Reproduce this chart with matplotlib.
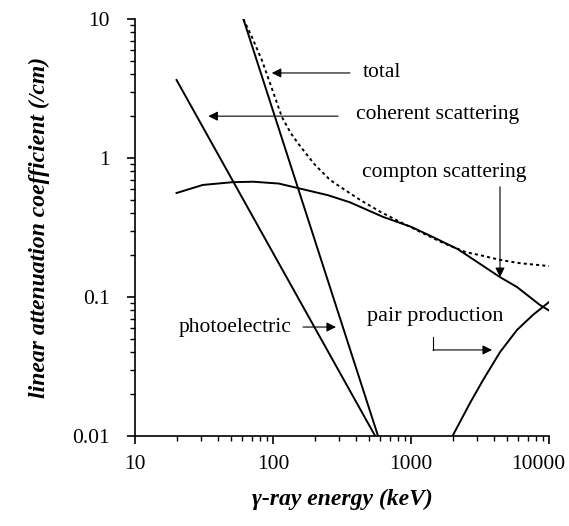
import matplotlib
matplotlib.use('Agg')
import matplotlib.pyplot as plt
import matplotlib.transforms as mtransforms

plt.rcParams['font.family'] = ['Liberation Serif', 'DejaVu Serif']

# values (energy in keV, coefficient in /cm)
coherent_E = [20, 550]
coherent_mu = [3.64, 0.01]

photo_E = [61, 577]
photo_mu = [10, 0.01]

compton_E = [20, 31, 51, 72, 110, 149, 250, 361, 627, 1000, 1443, 2200,
             3006, 4415, 5860, 8610, 10000]
compton_mu = [0.56, 0.64, 0.67, 0.675, 0.655, 0.61, 0.54, 0.48, 0.377,
              0.32, 0.27, 0.22, 0.179, 0.139, 0.118, 0.0875, 0.08]

pair_E = [2000, 2680, 3330, 4420, 5870, 7650, 10000]
pair_mu = [0.01, 0.0173, 0.0253, 0.0402, 0.058, 0.0743, 0.092]

total_E = [61, 70, 83, 100, 116, 135, 157, 200, 259, 340, 427, 600, 832,
           1200, 1707, 2500, 3162, 4415, 6170, 10000]
total_mu = [10, 7.5, 5.07, 3.0, 1.97, 1.5, 1.22, 0.90, 0.695, 0.58, 0.50,
            0.41, 0.347, 0.29, 0.245, 0.21, 0.20, 0.185, 0.175, 0.167]

xticks = [10, 100, 1000, 10000]
xtick_labels = ['10', '100', '1000', '10000']
yticks = [0.01, 0.1, 1, 10]
ytick_labels = ['0.01', '0.1', '1', '10']

fig = plt.figure(figsize=(5.69, 5.26), dpi=100)
ax = fig.add_axes([135 / 569, 1 - 436 / 526, 414 / 569, 417 / 526])

lw = 1.4
ax.plot(coherent_E, coherent_mu, color='black', lw=lw)
ax.plot(photo_E, photo_mu, color='black', lw=lw)
ax.plot(compton_E, compton_mu, color='black', lw=lw)
ax.plot(pair_E, pair_mu, color='black', lw=lw)
ax.plot(total_E, total_mu, color='black', lw=1.4, linestyle=(0, (1.6, 1.6)))

ax.set_xscale('log')
ax.set_yscale('log')
ax.set_xlim(10, 10000)
ax.set_ylim(0.01, 10)
ax.set_xticks(xticks, xtick_labels)
ax.set_yticks(yticks, ytick_labels)

for s in ['top', 'right']:
    ax.spines[s].set_visible(False)
for s in ['left', 'bottom']:
    ax.spines[s].set_linewidth(1.2)
ax.tick_params(which='major', direction='out', length=6, width=1.2,
               labelsize=15.5, pad=8)
ax.tick_params(which='minor', direction='out', length=3.5, width=1.0)
ax.tick_params(axis='y', which='major', pad=12)

# last x label sits a bit left of its tick, inside the picture
last = ax.get_xticklabels()[-1]
last.set_transform(last.get_transform() +
                   mtransforms.ScaledTranslation(-8 / 72, 0, fig.dpi_scale_trans))

lab = dict(fontsize=17, fontweight='bold', fontstyle='italic')
ax.set_xlabel('γ-ray energy (keV)', labelpad=10, **lab)
ax.set_ylabel('linear attenuation coefficient (/cm)', labelpad=16, **lab)

# annotations
arrow = dict(arrowstyle='-|>', color='black', lw=0.8, mutation_scale=14,
             shrinkA=0, shrinkB=0)
fs = 15.5
ax.text(449, 4.09, 'total', fontsize=fs, ha='left', va='center')
ax.annotate('', xy=(98, 4.09), xytext=(361, 4.09), arrowprops=arrow)

ax.text(399, 2.04, 'coherent scattering', fontsize=fs, ha='left', va='center')
ax.annotate('', xy=(34, 2.0), xytext=(296, 2.0), arrowprops=arrow)

ax.text(441, 0.79, 'compton scattering', fontsize=fs, ha='left', va='center')
ax.annotate('', xy=(4415, 0.139), xytext=(4415, 0.62), arrowprops=arrow)

ax.text(20.8, 0.0608, 'photoelectric', fontsize=fs, ha='left', va='center')
ax.annotate('', xy=(286, 0.0608), xytext=(165, 0.0608), arrowprops=arrow)

ax.text(480, 0.0718, 'pair production', fontsize=16, ha='left', va='center')
ax.plot([1443, 1443], [0.0515, 0.0416], color='black', lw=0.8)
ax.annotate('', xy=(3864, 0.0416), xytext=(1443, 0.0416), arrowprops=arrow)

fig.savefig('out.png', dpi=100)
